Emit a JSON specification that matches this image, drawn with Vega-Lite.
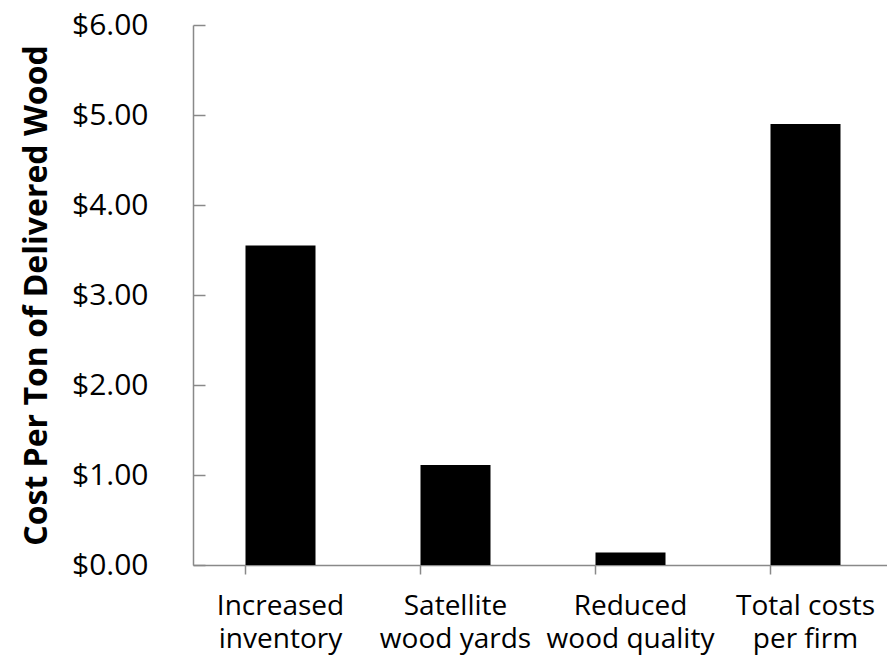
{
  "$schema": "https://vega.github.io/schema/vega-lite/v6.json",
  "autosize": "none",
  "width": 700,
  "height": 540,
  "padding": {"left": 193, "top": 25, "right": 0, "bottom": 95},
  "background": "white",
  "config": {"view": {"stroke": null}, "font": "Open Sans"},
  "data": {
    "values": [
      {"category": "Increased inventory", "cost": 3.55},
      {"category": "Satellite wood yards", "cost": 1.11},
      {"category": "Reduced wood quality", "cost": 0.14},
      {"category": "Total costs per firm", "cost": 4.9}
    ]
  },
  "mark": {"type": "bar", "color": "#000000"},
  "encoding": {
    "x": {
      "field": "category",
      "type": "nominal",
      "sort": null,
      "scale": {"paddingInner": 0.6, "paddingOuter": 0.3},
      "axis": {
        "title": null,
        "labelAngle": 0,
        "labelFont": "Open Sans",
        "labelFontSize": 28,
        "labelColor": "#000000",
        "labelLineHeight": 33,
        "labelPadding": 18,
        "labelBaseline": "top",
        "labelExpr": "datum.label == 'Increased inventory' ? ['Increased', 'inventory'] : datum.label == 'Satellite wood yards' ? ['Satellite', 'wood yards'] : datum.label == 'Reduced wood quality' ? ['Reduced', 'wood quality'] : ['Total costs', 'per firm']",
        "bandPosition": 0,
        "tickSize": 9,
        "tickColor": "#898989",
        "tickWidth": 1.5,
        "domainColor": "#898989",
        "domainWidth": 1.5,
        "labelLimit": 0
      }
    },
    "y": {
      "field": "cost",
      "type": "quantitative",
      "scale": {"domain": [0, 6], "nice": false},
      "axis": {
        "title": "Cost Per Ton of Delivered Wood",
        "titleFont": "Open Sans",
        "titleFontSize": 32,
        "titleFontWeight": "bold",
        "titleColor": "#000000",
        "titlePadding": 18,
        "values": [0, 1, 2, 3, 4, 5, 6],
        "format": "$.2f",
        "labelFont": "Open Sans",
        "labelFontSize": 30,
        "labelColor": "#000000",
        "labelPadding": 57,
        "tickSize": -12,
        "tickColor": "#898989",
        "tickWidth": 1.5,
        "domainColor": "#898989",
        "domainWidth": 1.5,
        "grid": false
      }
    }
  }
}
